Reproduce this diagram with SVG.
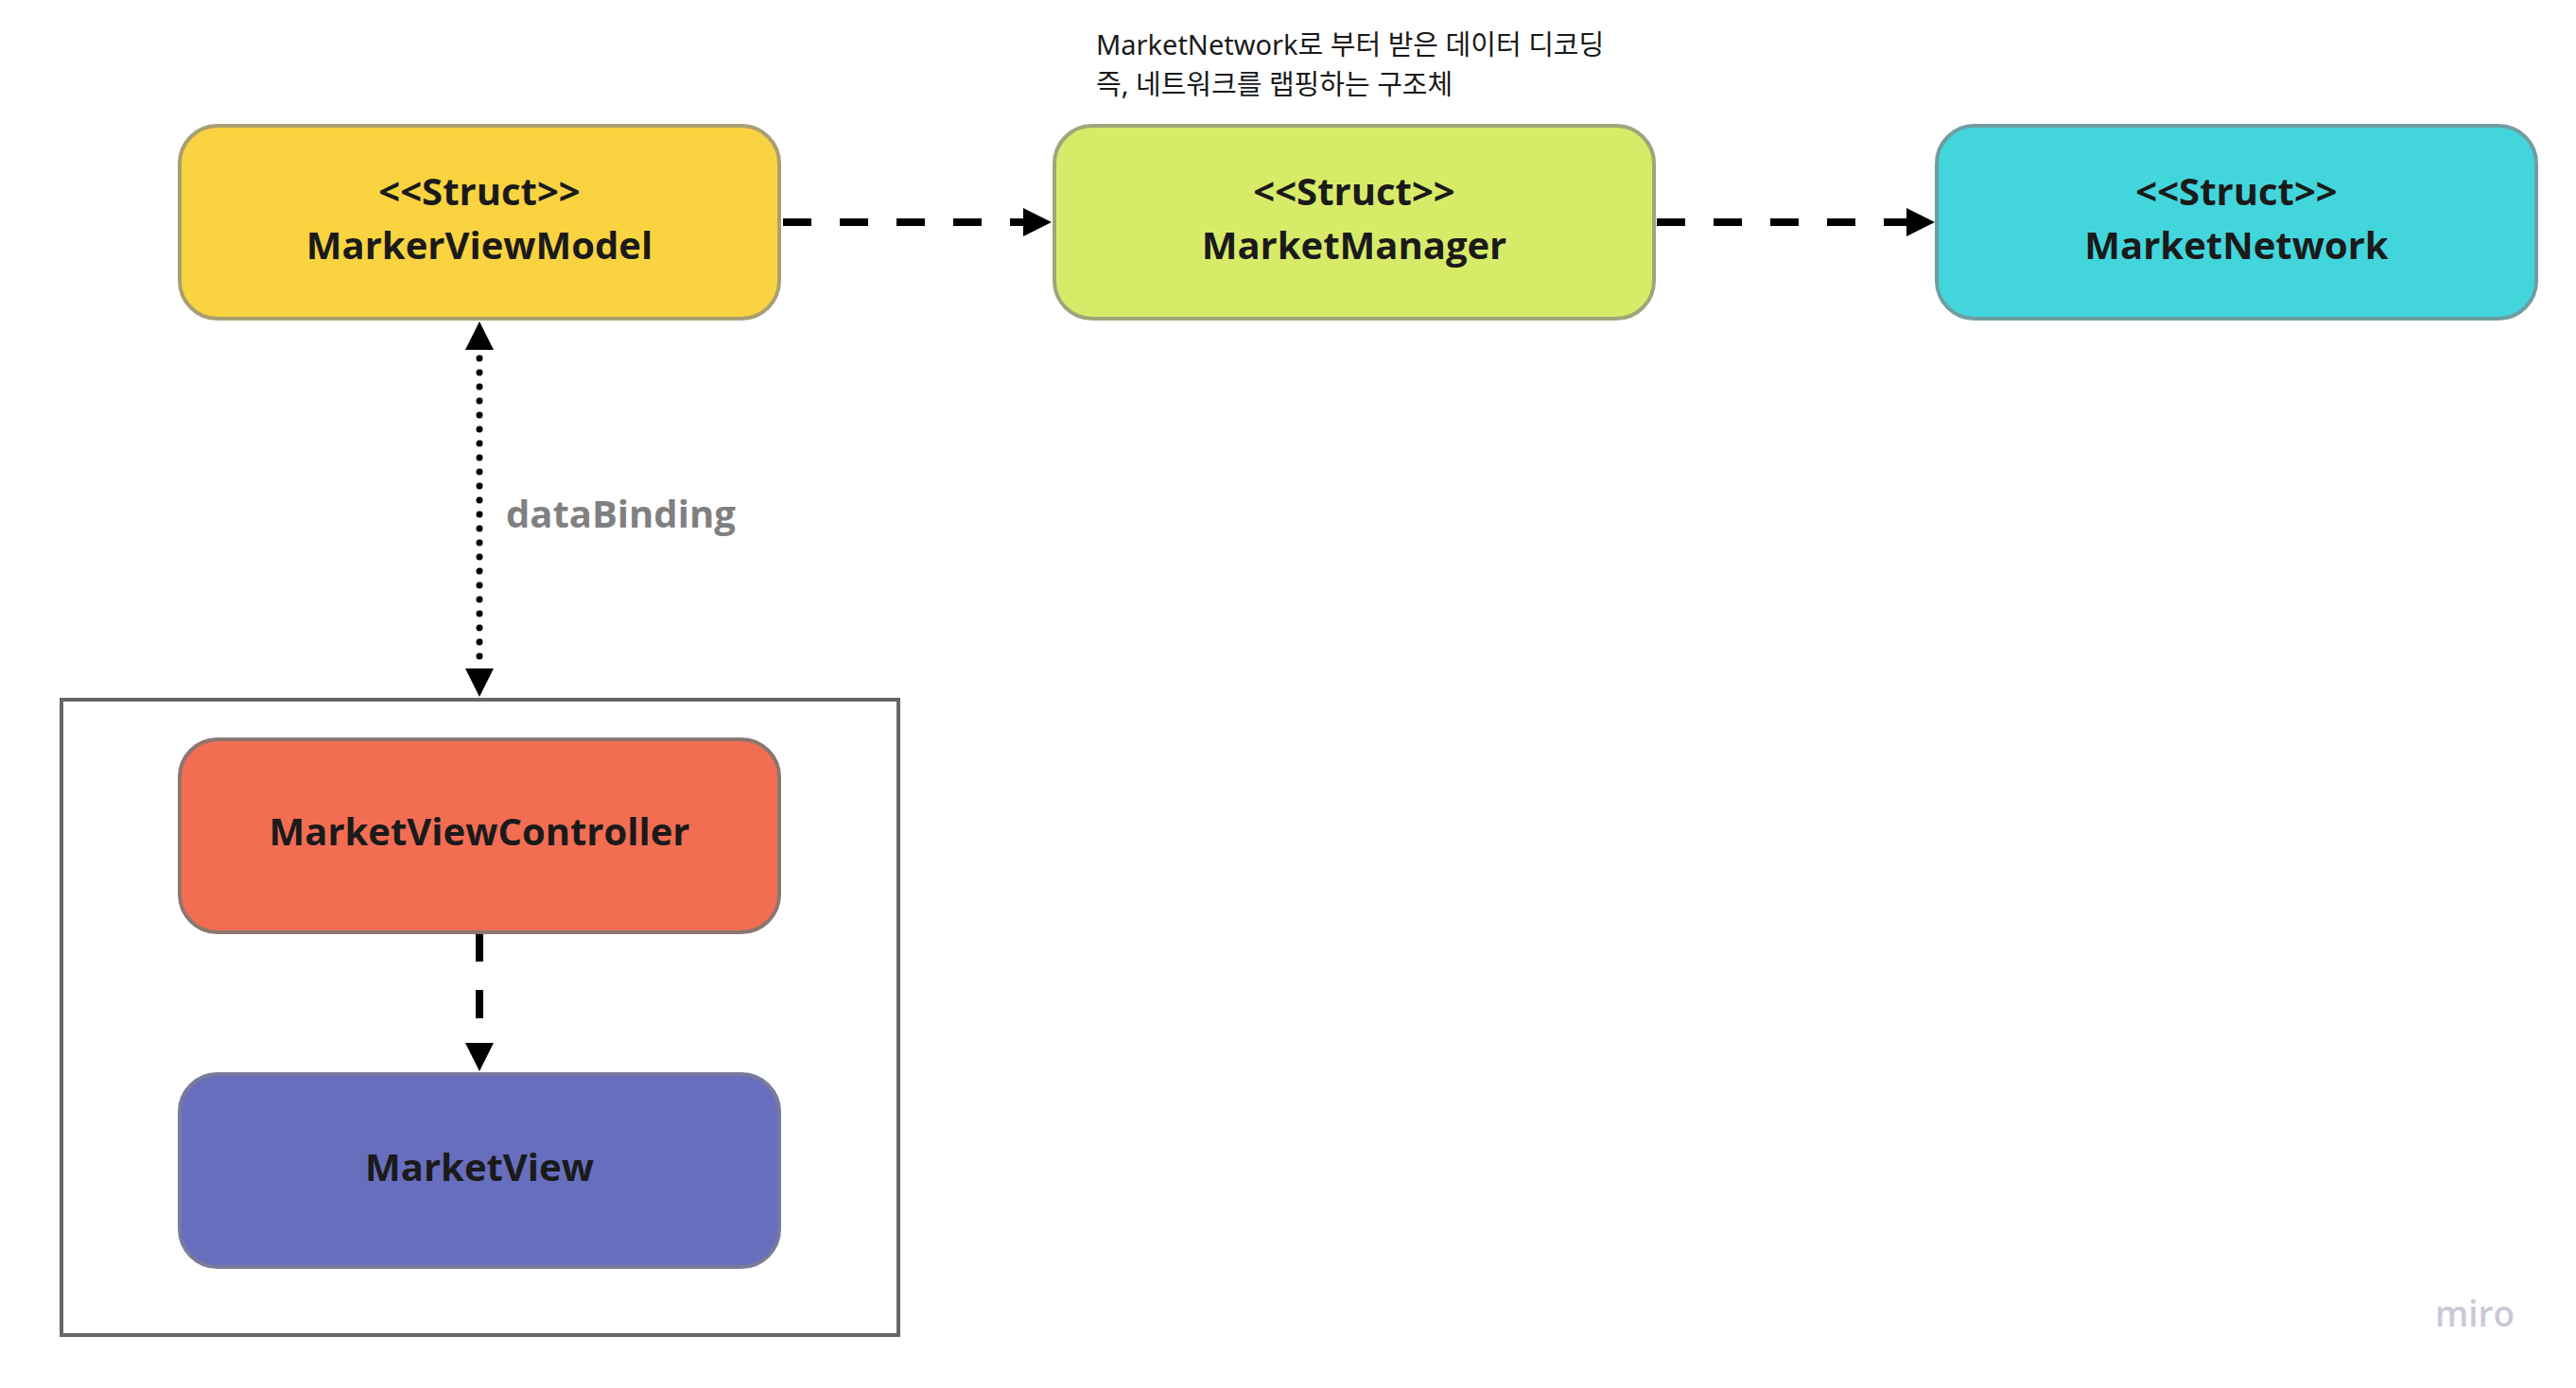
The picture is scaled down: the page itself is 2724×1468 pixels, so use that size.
<svg xmlns="http://www.w3.org/2000/svg" width="2724" height="1468" viewBox="0 0 2724 1468">
<style>
.node rect{stroke-width:4}
.lbl{font-family:"Open Sans","Liberation Sans",sans-serif;font-weight:700;font-size:40px;fill:#1a1a1a;text-anchor:middle}
.dash{stroke:#000;stroke-width:8;stroke-dasharray:30 30;fill:none}
.dot{stroke:#000;stroke-width:7;stroke-dasharray:0 15;stroke-linecap:round;fill:none}
.head{fill:#000}
.note{font-family:"Noto Sans","Noto Sans CJK KR",sans-serif;font-size:29px;fill:#1a1a1a}
</style>
<rect width="2724" height="1468" fill="#ffffff"/>
<g id="container">
<rect x="65" y="740" width="885" height="672" fill="none" stroke="#666666" stroke-width="4"/>
</g>
<g id="connectors">
<line class="dash" x1="828" y1="235" x2="1084" y2="235"/>
<polygon class="head" points="1112,235 1082,220 1082,250"/>
<line class="dash" x1="1752" y1="235" x2="2018" y2="235"/>
<polygon class="head" points="2046,235 2016,220 2016,250"/>
<line class="dash" x1="507" y1="987" x2="507" y2="1105"/>
<polygon class="head" points="507,1133 492,1103 522,1103"/>
<line class="dot" x1="507" y1="379" x2="507" y2="700"/>
<polygon class="head" points="507,340 492,370 522,370"/>
<polygon class="head" points="507,737 492,707 522,707"/>
<text x="535" y="558" style="font-family:'Open Sans','Liberation Sans',sans-serif;font-weight:700;font-size:40px;fill:#808080">dataBinding</text>
</g>
<g id="note">
<text class="note" x="1159" y="58">MarketNetwork로 부터 받은 데이터 디코딩</text>
<text class="note" x="1159" y="100">즉, 네트워크를 랩핑하는 구조체</text>
</g>
<g id="MarkerViewModel" class="node">
<rect x="190" y="133" width="634" height="204" rx="40" fill="#fad341" stroke="#a89f72"/>
<text class="lbl" x="507" y="217">&lt;&lt;Struct&gt;&gt;</text>
<text class="lbl" x="507" y="274">MarkerViewModel</text>
</g>
<g id="MarketManager" class="node">
<rect x="1115" y="133" width="634" height="204" rx="40" fill="#d8eb69" stroke="#9fa57a"/>
<text class="lbl" x="1432" y="217">&lt;&lt;Struct&gt;&gt;</text>
<text class="lbl" x="1432" y="274">MarketManager</text>
</g>
<g id="MarketNetwork" class="node">
<rect x="2048" y="133" width="634" height="204" rx="40" fill="#42d6dc" stroke="#6e9ea2"/>
<text class="lbl" x="2365" y="217">&lt;&lt;Struct&gt;&gt;</text>
<text class="lbl" x="2365" y="274">MarketNetwork</text>
</g>
<g id="MarketViewController" class="node">
<rect x="190" y="782" width="634" height="204" rx="40" fill="#f36d53" stroke="#8b7670"/>
<text class="lbl" x="507" y="894">MarketViewController</text>
</g>
<g id="MarketView" class="node">
<rect x="190" y="1136" width="634" height="204" rx="40" fill="#676ebd" stroke="#7a7b9b"/>
<text class="lbl" x="507" y="1249">MarketView</text>
</g>
<text x="2575" y="1403" style="font-family:'Open Sans','Liberation Sans',sans-serif;font-weight:600;font-size:37px;fill:#c9c9d6">miro</text>
</svg>
